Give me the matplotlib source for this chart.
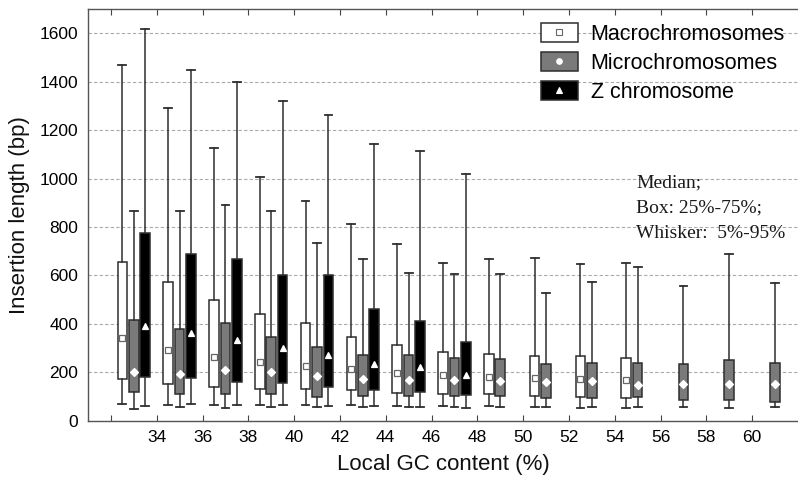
import numpy as np
import matplotlib
matplotlib.use("Agg")
import matplotlib.pyplot as plt
from matplotlib.patches import Patch
from matplotlib.lines import Line2D

plt.rcParams['font.family'] = ['Liberation Sans', 'DejaVu Sans']

# ---- data ----
macro_gc = [33, 35, 37, 39, 41, 43, 45, 47, 49, 51, 53, 55]
macro_whishi = [1467, 1292, 1127, 1008, 907, 812, 731, 652, 667, 672, 645, 650]
macro_q3 = [654, 572, 499, 441, 402, 346, 311, 285, 276, 267, 266, 257]
macro_med = [342, 294, 264, 243, 227, 213, 197, 187, 180, 176, 172, 167]
macro_q1 = [171, 153, 140, 132, 132, 127, 114, 111, 109, 102, 96, 92]
macro_whislo = [68, 66, 63, 63, 63, 63, 62, 60, 60, 58, 52, 52]

micro_gc = [33, 35, 37, 39, 41, 43, 45, 47, 49, 51, 53, 55, 57, 59, 61]
micro_whishi = [866, 866, 892, 866, 734, 666, 609, 605, 605, 527, 571, 634, 555, 687, 567]
micro_q3 = [415, 377, 402, 344, 304, 271, 270, 260, 254, 233, 239, 237, 233, 249, 239]
micro_med = [200, 193, 209, 200, 184, 173, 169, 169, 164, 158, 165, 148, 151, 151, 151]
micro_q1 = [117, 111, 111, 111, 98, 101, 101, 101, 101, 92, 92, 96, 87, 87, 78]
micro_whislo = [47, 58, 54, 58, 56, 58, 56, 56, 56, 56, 56, 56, 56, 51, 56]

z_gc = [33, 35, 37, 39, 41, 43, 45, 47]
z_whishi = [1619, 1450, 1398, 1320, 1263, 1141, 1115, 1019]
z_q3 = [777, 690, 666, 600, 600, 463, 412, 325]
z_med = [390, 363, 333, 301, 270, 234, 221, 190]
z_q1 = [179, 177, 160, 154, 139, 127, 117, 105]
z_whislo = [62, 68, 66, 63, 62, 59, 56, 54]

series_names = ["Macrochromosomes", "Microchromosomes", "Z chromosome"]
xticks = list(range(32, 62, 2))
xticklabels = [''] + [str(v) for v in range(34, 62, 2)]
yticks = list(range(0, 1601, 200))

# ---- plotting ----
fig = plt.figure(figsize=(7.98, 4.78), dpi=100)
ax = fig.add_axes([88/798, 1-420.7/478, 1-88/798, (420.7-9)/478])

series = [
    (macro_gc, macro_whislo, macro_q1, macro_med, macro_q3, macro_whishi, -0.5, 'white', 's', '#666666'),
    (micro_gc, micro_whislo, micro_q1, micro_med, micro_q3, micro_whishi, 0.0, '#7a7a7a', 'D', 'white'),
    (z_gc, z_whislo, z_q1, z_med, z_q3, z_whishi, 0.5, 'black', '^', 'white'),
]
edge = '#2e2e2e'
handles = []
for (gc, lo, q1, med, q3, hi, off, fc, mk, mec), name in zip(series, series_names):
    stats = [dict(whislo=a, q1=b, med=c, q3=d, whishi=e, fliers=[])
             for a, b, c, d, e in zip(lo, q1, med, q3, hi)]
    pos = [g + off for g in gc]
    ax.bxp(stats, positions=pos, widths=0.42, capwidths=0.34, patch_artist=True,
           showfliers=False, manage_ticks=False,
           boxprops=dict(facecolor=fc, edgecolor=edge, linewidth=1.1),
           whiskerprops=dict(color=edge, linewidth=1.1),
           capprops=dict(color=edge, linewidth=1.3),
           medianprops=dict(linewidth=0))
    ax.plot(pos, med, linestyle='none', marker=mk, markersize=5 if mk != 'D' else 4.5,
            markerfacecolor='white', markeredgecolor=mec, markeredgewidth=0.9, zorder=5)
    handles.append((Patch(facecolor=fc, edgecolor=edge, linewidth=1.1),
                    Line2D([], [], linestyle='none', marker=mk if mk != 'D' else 'o',
                           markersize=4, markerfacecolor='white',
                           markeredgecolor=mec, markeredgewidth=0.8)))

ax.set_xlim(31, 62)
ax.set_ylim(0, 1700)
ax.set_xticks(xticks)
ax.set_xticklabels(xticklabels)
ax.set_yticks(yticks)
ax.tick_params(axis='x', direction='in', top=True, length=4, labelsize=12.5,
               color='#444444', pad=7)
ax.tick_params(axis='y', length=0, labelsize=12.5, pad=7)
ax.yaxis.grid(True, linestyle=(0, (3, 2)), color='#aaaaaa', linewidth=0.8)
ax.set_axisbelow(True)
for s in ['left', 'bottom', 'top']:
    ax.spines[s].set_color('#555555')
    ax.spines[s].set_linewidth(1.0)
ax.spines['right'].set_visible(False)

ax.set_xlabel("Local GC content (%)", fontsize=16, labelpad=6, color='#111111')
ax.set_ylabel("Insertion length (bp)", fontsize=16, labelpad=7, color='#111111')

leg = ax.legend(handles, series_names, loc='upper left',
                bbox_to_anchor=(541/798, 1-23/478), bbox_transform=fig.transFigure,
                frameon=False, fontsize=15.5, handlelength=1.7, handleheight=1.0,
                labelspacing=0.33, handletextpad=0.6, borderpad=0, borderaxespad=0)

ax.text(54.93, 1018, "Median;\nBox: 25%-75%;\nWhisker:  5%-95%", family='Liberation Serif',
        fontsize=14, va='top', ha='left', linespacing=1.65, color='#1a1a1a')

fig.savefig("out.png", dpi=100)
